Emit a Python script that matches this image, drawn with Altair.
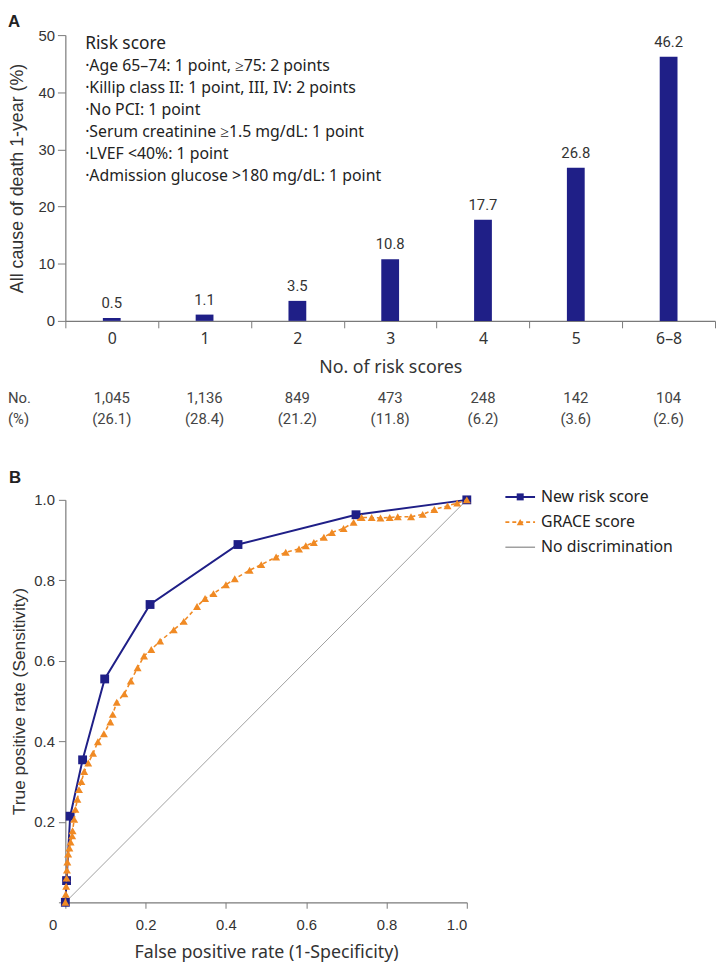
import altair as alt
import pandas as pd

# ---------------- Panel A data ----------------
categories = ["0", "1", "2", "3", "4", "5", "6–8"]
death_rate = [0.5, 1.1, 3.5, 10.8, 17.7, 26.8, 46.2]
patients_n = ["1,045", "1,136", "849", "473", "248", "142", "104"]
patients_pct = ["(26.1)", "(28.4)", "(21.2)", "(11.8)", "(6.2)", "(3.6)", "(2.6)"]
risk_title = "Risk score"
risk_items = [
    "·Age 65–74: 1 point, ≥75: 2 points",
    "·Killip class II: 1 point, III, IV: 2 points",
    "·No PCI: 1 point",
    "·Serum creatinine ≥1.5 mg/dL: 1 point",
    "·LVEF <40%: 1 point",
    "·Admission glucose >180 mg/dL: 1 point",
]
y_ticks_a = [0, 10, 20, 30, 40, 50]

# ---------------- Panel B data ----------------
new_fpr = [0, 0.003, 0.012, 0.043, 0.098, 0.211, 0.430, 0.724, 1.0]
new_tpr = [0, 0.054, 0.214, 0.354, 0.555, 0.740, 0.889, 0.963, 1.0]
grace_fpr = [0, 0.001, 0.002, 0.003, 0.004, 0.005, 0.007, 0.010, 0.013,
             0.017, 0.018, 0.022, 0.025, 0.030, 0.034, 0.040, 0.047, 0.057, 0.069,
             0.081, 0.096, 0.112, 0.118, 0.128, 0.147, 0.163, 0.180, 0.196, 0.214,
             0.236, 0.270, 0.295, 0.328, 0.348, 0.369, 0.400, 0.422, 0.459, 0.488,
             0.525, 0.549, 0.582, 0.599, 0.619, 0.644, 0.664, 0.693, 0.718, 0.738,
             0.763, 0.785, 0.808, 0.828, 0.861, 0.890, 0.919, 0.952, 0.976, 1.0]
grace_tpr = [0, 0.02, 0.04, 0.06, 0.08, 0.10, 0.12, 0.135, 0.15,
             0.165, 0.178, 0.206, 0.231, 0.256, 0.280, 0.300, 0.325, 0.346, 0.370,
             0.399, 0.419, 0.448, 0.467, 0.497, 0.518, 0.550, 0.583, 0.612, 0.628,
             0.649, 0.677, 0.698, 0.735, 0.755, 0.767, 0.789, 0.804, 0.825, 0.839,
             0.858, 0.870, 0.878, 0.886, 0.894, 0.907, 0.919, 0.929, 0.944, 0.956,
             0.956, 0.955, 0.956, 0.958, 0.958, 0.964, 0.976, 0.985, 0.992, 1.0]
diag = [0, 1]
series_names = ["New risk score", "GRACE score", "No discrimination"]
roc_ticks = [0, 0.2, 0.4, 0.6, 0.8, 1.0]

NAVY = "#1f1f87"
ORANGE = "#f08a24"
GRAY = "#a0a0a0"
AXIS = "#7a7a7a"
TXT = "#333333"

# ---------------- Panel A ----------------
top_df = pd.DataFrame({
    "score": categories,
    "rate": death_rate,
    "label": [str(v) for v in death_rate],
    "n": patients_n,
    "pct": patients_pct,
})

x_a = alt.X("score:N", sort=categories,
            scale=alt.Scale(paddingInner=0, paddingOuter=0),
            axis=alt.Axis(title="No. of risk scores", tickBand="extent", labelAngle=0,
                          labelFont="Noto Sans", labelFontSize=16, labelColor=TXT,
                          titleFont="Noto Sans", titleFontSize=18, titleFontWeight="normal",
                          titleColor=TXT, tickSize=7, labelPadding=3, titlePadding=12,
                          domainColor=AXIS, tickColor=AXIS, domainWidth=1.2))
y_a = alt.Y("rate:Q", scale=alt.Scale(domain=[0, 50]),
            axis=alt.Axis(values=y_ticks_a, title="All cause of death 1-year (%)",
                          labelFont="Liberation Sans", labelFontSize=15, labelColor=TXT,
                          titleFont="Liberation Sans", titleFontSize=18,
                          titleFontWeight="normal", titleColor=TXT, tickSize=8,
                          labelPadding=3, titlePadding=12, domainColor=AXIS,
                          tickColor=AXIS, domainWidth=1.2))

base_a = alt.Chart(top_df)
bars = base_a.mark_bar(size=18, color=NAVY).encode(x=x_a, y=y_a)
bar_labels = base_a.mark_text(dy=-15, baseline="middle", font="Roboto", fontSize=15,
                              color=TXT).encode(x=x_a, y=y_a, text="label:N")
row_n = base_a.mark_text(baseline="middle", font="Roboto", fontSize=15,
                         color="#444").encode(x=x_a, y=alt.value(367), text="n:N")
row_pct = base_a.mark_text(baseline="middle", font="Roboto", fontSize=15,
                           color="#444").encode(x=x_a, y=alt.value(388), text="pct:N")

one = pd.DataFrame({"k": [0]})
lab_no = alt.Chart(one).mark_text(text="No.", align="left", baseline="middle", font="Roboto",
                                  fontSize=15, color="#444").encode(x=alt.value(-58), y=alt.value(367))
lab_pct = alt.Chart(one).mark_text(text="(%)", align="left", baseline="middle", font="Roboto",
                                   fontSize=15, color="#444").encode(x=alt.value(-58), y=alt.value(388))
letter_a = alt.Chart(one).mark_text(text="A", align="left", baseline="middle",
                                    font="Liberation Sans", fontSize=17, fontWeight="bold",
                                    color="#222").encode(x=alt.value(-58), y=alt.value(-13))
note_title = alt.Chart(one).mark_text(text=risk_title, align="left", baseline="middle",
                                      font="Noto Sans", fontSize=17.5, color="#222").encode(
    x=alt.value(20), y=alt.value(9))
note_items = alt.Chart(one).mark_text(text=risk_items, align="left", baseline="top",
                                      font="Noto Sans", fontSize=16, lineHeight=22.4,
                                      color="#222").encode(x=alt.value(20), y=alt.value(23))

top = alt.layer(bars, bar_labels, row_n, row_pct, lab_no, lab_pct, letter_a,
                note_title, note_items).properties(width=657, height=289)

# ---------------- Panel B ----------------
new_df = pd.DataFrame({"fpr": new_fpr, "tpr": new_tpr})
grace_df = pd.DataFrame({"fpr": grace_fpr, "tpr": grace_tpr})
diag_df = pd.DataFrame({"fpr": diag, "tpr": diag})

x_b = alt.X("fpr:Q", scale=alt.Scale(domain=[0, 1]),
            axis=alt.Axis(values=roc_ticks, title="False positive rate (1-Specificity)",
                          labelExpr="datum.value == 0 ? '0' : format(datum.value, '.1f')",
                          labelOffset={"condition": {"test": "datum.value == 0", "value": -17},
                                       "value": 0},
                          labelFont="Liberation Sans", labelFontSize=15, labelColor=TXT,
                          titleFont="Noto Sans", titleFontSize=18, titleFontWeight="normal",
                          titleColor=TXT, tickSize=6, labelPadding=9, titlePadding=12,
                          domainColor=AXIS, tickColor=AXIS, domainWidth=1.2))
y_b = alt.Y("tpr:Q", scale=alt.Scale(domain=[0, 1]),
            axis=alt.Axis(values=roc_ticks, title="True positive rate (Sensitivity)",
                          labelExpr="datum.value == 0 ? '' : format(datum.value, '.1f')",
                          labelFont="Liberation Sans", labelFontSize=15, labelColor=TXT,
                          titleFont="Liberation Sans", titleFontSize=17.5,
                          titleFontWeight="normal", titleColor=TXT, tickSize=7,
                          labelPadding=4, titlePadding=5, domainColor=AXIS,
                          tickColor=AXIS, domainWidth=1.2))

diag_line = alt.Chart(diag_df).mark_line(color=GRAY, strokeWidth=1).encode(x=x_b, y=y_b)
new_line = alt.Chart(new_df).mark_line(color=NAVY, strokeWidth=2).encode(x=x_b, y=y_b)
new_pts = alt.Chart(new_df).mark_point(shape="square", filled=True, size=80, opacity=1,
                                       color=NAVY).encode(x=x_b, y=y_b)
grace_line = alt.Chart(grace_df).mark_line(color=ORANGE, strokeWidth=1.6,
                                           strokeDash=[4, 3]).encode(x=x_b, y=y_b)
grace_pts = alt.Chart(grace_df).mark_point(shape="triangle-up", filled=True, size=65,
                                           opacity=1, color=ORANGE).encode(x=x_b, y=y_b)
letter_b = alt.Chart(one).mark_text(text="B", align="left", baseline="middle",
                                    font="Liberation Sans", fontSize=17, fontWeight="bold",
                                    color="#222").encode(x=alt.value(-57), y=alt.value(-22))

roc = alt.layer(diag_line, new_line, new_pts, grace_line, grace_pts, letter_b).properties(
    width=406, height=407)

# ---------------- Legend ----------------
leg_df = pd.DataFrame({"series": series_names})
leg_y = alt.Y("series:N", sort=series_names,
              scale=alt.Scale(type="point", range=[-3, 48], padding=0), axis=None)
leg_color = alt.Color("series:N", scale=alt.Scale(domain=series_names,
                                                  range=[NAVY, ORANGE, GRAY]), legend=None)
leg_base = alt.Chart(leg_df)
leg_rule = leg_base.mark_rule().encode(
    x=alt.value(0), x2=alt.value(30), y=leg_y, color=leg_color,
    strokeDash=alt.StrokeDash("series:N", scale=alt.Scale(domain=series_names,
                                                          range=[[1, 0], [4, 3], [1, 0]]),
                              legend=None),
    strokeWidth=alt.StrokeWidth("series:N", scale=alt.Scale(domain=series_names,
                                                            range=[2, 1.6, 1.2]),
                                legend=None))
leg_pts = leg_base.transform_filter(alt.datum.series != "No discrimination").mark_point(
    filled=True, opacity=1, size=50).encode(
    x=alt.value(15), y=leg_y, color=leg_color,
    shape=alt.Shape("series:N", scale=alt.Scale(domain=series_names,
                                                range=["square", "triangle-up", "circle"]),
                    legend=None))
leg_txt = leg_base.mark_text(align="left", baseline="middle", font="Noto Sans", fontSize=16,
                             color="#222").encode(x=alt.value(36), y=leg_y, text="series:N")
legend = alt.layer(leg_rule, leg_pts, leg_txt).properties(width=180, height=407)

bottom = alt.hconcat(roc, legend, spacing=33)

chart = alt.vconcat(top, bottom, spacing=43).properties(
    padding={"left": 0, "top": 0, "right": 0, "bottom": 0}
).configure_view(stroke=None).configure_axis(grid=False)

chart.save("out.html", embed_options={"renderer": "svg", "actions": False})
